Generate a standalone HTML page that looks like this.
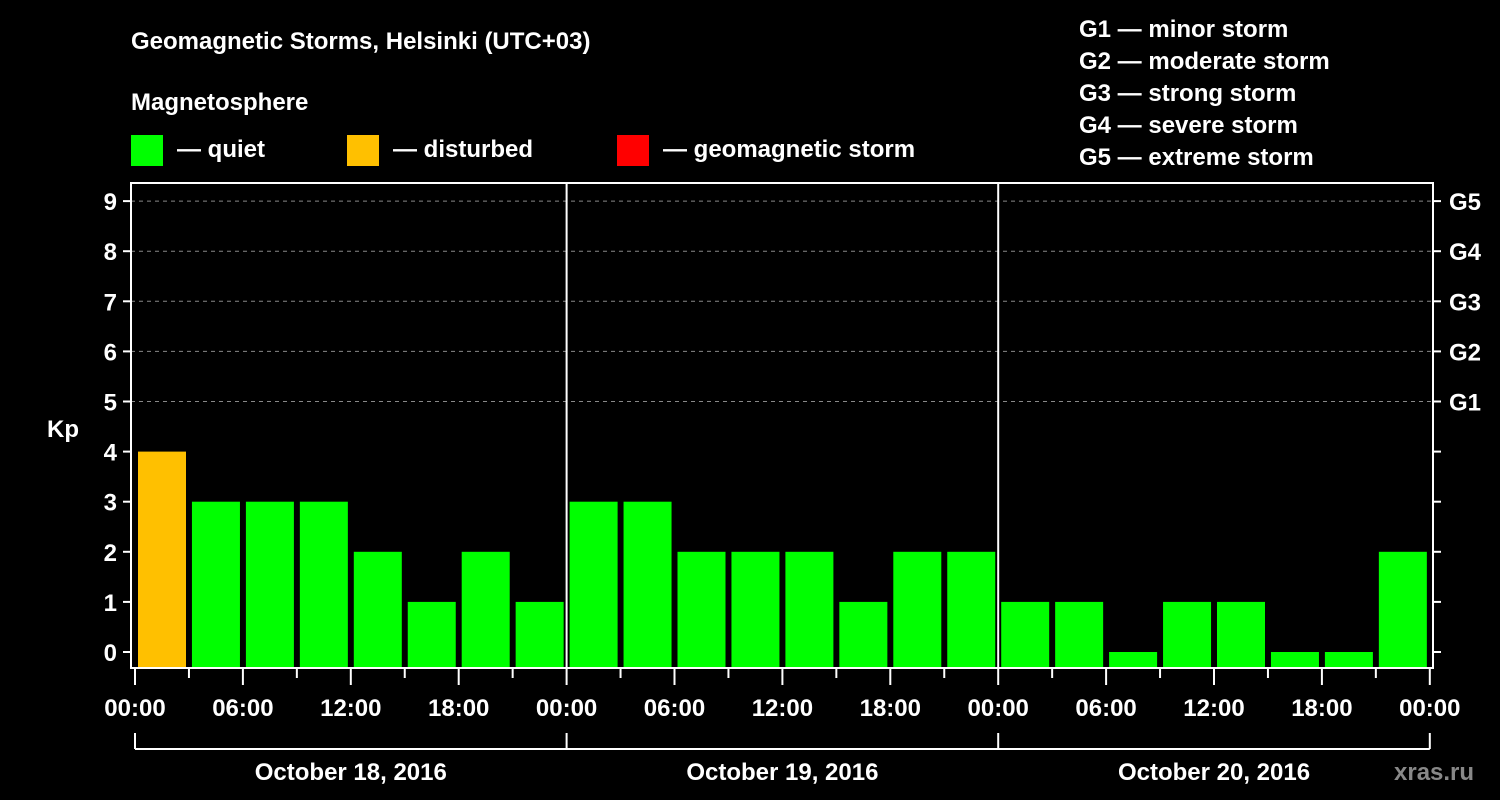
<!DOCTYPE html>
<html><head><meta charset="utf-8"><style>
body{margin:0;background:#000;width:1500px;height:800px;overflow:hidden}
svg{display:block}
text{font-family:"Liberation Sans",sans-serif;font-weight:bold;fill:#fff}
</style></head><body>
<svg id="c" width="1500" height="800">
<text x="131" y="49" font-size="24">Geomagnetic Storms, Helsinki (UTC+03)</text>
<text x="131" y="110" font-size="24">Magnetosphere</text>
<g><rect x="131" y="135" width="32" height="31" fill="#00ff00"/><text x="177" y="157" font-size="24">— quiet</text></g>
<g><rect x="347" y="135" width="32" height="31" fill="#ffc000"/><text x="393" y="157" font-size="24">— disturbed</text></g>
<g><rect x="617" y="135" width="32" height="31" fill="#ff0000"/><text x="663" y="157" font-size="24">— geomagnetic storm</text></g>
<g font-size="24">
<text x="1079" y="37">G1 — minor storm</text>
<text x="1079" y="69">G2 — moderate storm</text>
<text x="1079" y="101">G3 — strong storm</text>
<text x="1079" y="133">G4 — severe storm</text>
<text x="1079" y="165">G5 — extreme storm</text>
</g>
<text x="1394" y="780" font-size="24" fill="#888" style="fill:#888">xras.ru</text>
<text x="63" y="437" font-size="24" text-anchor="middle">Kp</text>
<g id="plot"></g>
</svg>
<script>
const kpValues=[4,3,3,3,2,1,2,1, 3,3,2,2,2,1,2,2, 1,1,0,1,1,0,0,2];
const yTicks=[0,1,2,3,4,5,6,7,8,9];
const gLabels=["G1","G2","G3","G4","G5"];
const hourLabels=["00:00","06:00","12:00","18:00"];
const dayLabels=["October 18, 2016","October 19, 2016","October 20, 2016"];
const NS="http://www.w3.org/2000/svg";
const L=131,R=1433,T=183,B=668,X0=135,DAY=431.6;
const y=v=>652-v*50.1;
const x=h=>X0+h*DAY/24;
const g=document.getElementById('plot');
function mk(t,a){const e=document.createElementNS(NS,t);for(const k in a)e.setAttribute(k,a[k]);g.appendChild(e);return e;}
// grid
yTicks.forEach(v=>{
 if(v>=5){const l=mk('line',{x1:L,x2:R,y1:y(v),y2:y(v),stroke:'#888','stroke-dasharray':'4,4','stroke-width':1});
 
 }
 const t=mk('line',{x1:L-8,x2:L,y1:y(v),y2:y(v),stroke:'#fff','stroke-width':2});
 
 
 const t2=mk('line',{x1:R,x2:R+8,y1:y(v),y2:y(v),stroke:'#fff','stroke-width':2});
 
 
 const lb=mk('text',{x:L-14,y:y(v)+9,'font-size':24,'text-anchor':'end'});lb.textContent=v;
 
 
});
gLabels.forEach((s,i)=>{
 const lb=mk('text',{x:R+16,y:y(5+i)+9,'font-size':24});lb.textContent=s;
 
 
});
// bars
kpValues.forEach((v,i)=>{
 const c=v>=5?'#ff0000':(v>=4?'#ffc000':'#00ff00');
 const top=y(v);
 const r=mk('rect',{x:x(i*3)+3,y:top,width:48,height:B-top,fill:c});
 
 
});
// day separators
for(let d=1;d<3;d++){const l=mk('line',{x1:x(d*24),x2:x(d*24),y1:T,y2:B,stroke:'#fff','stroke-width':2});
 
 }
// frame
const f=mk('rect',{x:L,y:T,width:R-L,height:B-T,fill:'none',stroke:'#fff','stroke-width':2});


// x ticks
for(let h=0;h<=72;h+=3){
 const major=h%6===0;
 const t=mk('line',{x1:x(h),x2:x(h),y1:B,y2:B+(major?17:10),stroke:'#fff','stroke-width':2});
 
 
 if(major){const lb=mk('text',{x:x(h),y:716,'font-size':24,'text-anchor':'middle'});lb.textContent=hourLabels[(h/6)%4];
 
 }
}
// day brackets
const br=mk('line',{x1:x(0),x2:x(72),y1:749,y2:749,stroke:'#fff','stroke-width':2});


for(let d=0;d<=3;d++){const l=mk('line',{x1:x(d*24),x2:x(d*24),y1:733,y2:749,stroke:'#fff','stroke-width':2});
 
 }
dayLabels.forEach((s,d)=>{const lb=mk('text',{x:x(d*24+12),y:780,'font-size':24,'text-anchor':'middle'});lb.textContent=s;
 
 });
</script>
</body></html>
